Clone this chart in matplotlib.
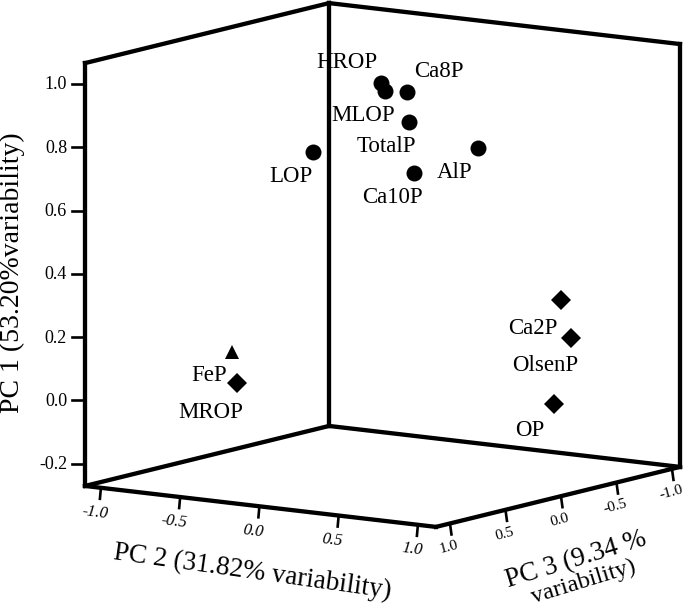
import numpy as np
import matplotlib
matplotlib.use('Agg')
import matplotlib.pyplot as plt

plt.rcParams['font.family'] = ['Liberation Serif', 'DejaVu Serif']

names = ['HROP', 'MLOP', 'Ca8P', 'TotalP', 'AlP', 'LOP', 'Ca10P', 'Ca2P', 'OlsenP', 'OP', 'MROP', 'FeP']
pc1 = [0.995, 0.971, 0.963, 0.882, 0.787, 0.790, 0.710, 0.312, 0.183, -0.020, 0.044, 0.141]
pc2 = [0.119, 0.144, 0.213, 0.295, 0.520, -0.100, 0.257, 0.904, 0.897, 0.860, -0.510, -0.541]
pc3 = [0.2, 0.2, 0.1, 0.2, -0.1, 0.5, 0.1, -0.3, -0.4, -0.3, 0.6, 0.6]
groups = ['o', 'o', 'o', 'o', 'o', 'o', 'o', 'D', 'D', 'D', 'D', '^']

pc1_ticks = [1.0, 0.8, 0.6, 0.4, 0.2, 0.0, -0.2]
pc1_labels = ['1.0', '0.8', '0.6', '0.4', '0.2', '0.0', '-0.2']
pc2_ticks = [-1.0, -0.5, 0.0, 0.5, 1.0]
pc2_labels = ['-1.0', '-0.5', '0.0', '0.5', '1.0']
pc3_ticks = [1.0, 0.5, 0.0, -0.5, -1.0]
pc3_labels = ['1.0', '0.5', '0.0', '-0.5', '-1.0']

# box limits of the oblique view
pc1_lim = (-0.27, 1.066)
pc2_lim = (-1.1, 1.114)
pc3_lim = (-1.072, 1.126)

# label offsets from the marker, in pixels
offsets = {'HROP': (-34, -20), 'MLOP': (-22, 25), 'Ca8P': (32, -20), 'TotalP': (-23, 25),
           'AlP': (-23, 25), 'LOP': (-22, 25), 'Ca10P': (-22, 25), 'Ca2P': (-28, 29),
           'OlsenP': (-26, 28), 'OP': (-24, 26), 'MROP': (-26, 29), 'FeP': (-23, 24)}


def proj(p1, p2, p3):
    p1, p2, p3 = np.asarray(p1), np.asarray(p2), np.asarray(p3)
    x = 384.4 + 158.5 * p2 - 111.0 * p3
    y = 390.1 + 18.5 * p2 + 27.3 * p3 - 316.5 * p1
    return x, y


fig = plt.figure(figsize=(6.85, 6.08), dpi=100)
ax = fig.add_axes([0, 0, 1, 1])
ax.set_xlim(0, 685)
ax.set_ylim(608, 0)
ax.axis('off')

lo1, hi1 = pc1_lim
lo2, hi2 = pc2_lim
lo3, hi3 = pc3_lim
edges = [
    ((lo1, lo1), (lo2, lo2), (hi3, lo3)),
    ((lo1, lo1), (lo2, hi2), (lo3, lo3)),
    ((lo1, lo1), (lo2, hi2), (hi3, hi3)),
    ((lo1, lo1), (hi2, hi2), (hi3, lo3)),
    ((hi1, hi1), (lo2, lo2), (hi3, lo3)),
    ((hi1, hi1), (lo2, hi2), (lo3, lo3)),
    ((lo1, hi1), (lo2, lo2), (hi3, hi3)),
    ((lo1, hi1), (lo2, lo2), (lo3, lo3)),
    ((lo1, hi1), (hi2, hi2), (lo3, lo3)),
]
for a, b, c in edges:
    x, y = proj(a, b, c)
    ax.plot(x, y, color='black', lw=3.1, solid_capstyle='projecting', zorder=3)

for t, lab in zip(pc1_ticks, pc1_labels):
    x, y = proj(t, lo2, hi3)
    ax.plot([x - 13, x], [y, y], color='black', lw=1.9, zorder=3)
    ax.text(x - 18, y + 1, lab, ha='right', va='center', fontsize=13)

for t, lab in zip(pc2_ticks, pc2_labels):
    x, y = proj(lo1, t, hi3)
    ax.plot([x, x - 1], [y, y + 11], color='black', lw=1.9, zorder=3)
    ax.text(x - 6, y + 25, lab, ha='center', va='center', fontsize=12, style='italic', rotation=-7)

for t, lab in zip(pc3_ticks, pc3_labels):
    x, y = proj(lo1, hi2, t)
    ax.plot([x, x + 1.5], [y, y + 11], color='black', lw=1.9, zorder=3)
    ax.text(x - 1, y + 24, lab, ha='center', va='center', fontsize=11, rotation=15)

xs, ys = proj(pc1, pc2, pc3)
for name, mk, x, y in zip(names, groups, xs, ys):
    size = {'o': 11.5, 'D': 10.5, '^': 10.5}[mk]
    ax.plot(x, y, marker=mk, color='black', ms=size, mew=0, ls='none', zorder=4)
    dx, dy = offsets[name]
    ax.text(x + dx, y + dy, name, ha='center', va='center', fontsize=16.5, zorder=2)

ax.text(12, 273, 'PC 1 (53.20%variability)', rotation=90, ha='center', va='center', fontsize=20)
ax.text(252, 572, 'PC 2 (31.82% variability)', rotation=-8, ha='center', va='center', fontsize=19.5)
ax.text(576, 560, 'PC 3 (9.34 %', rotation=17, ha='center', va='center', fontsize=19.5)
ax.text(584, 582, 'variability)', rotation=17, ha='center', va='center', fontsize=17.5)

fig.savefig('out.png', dpi=100)
